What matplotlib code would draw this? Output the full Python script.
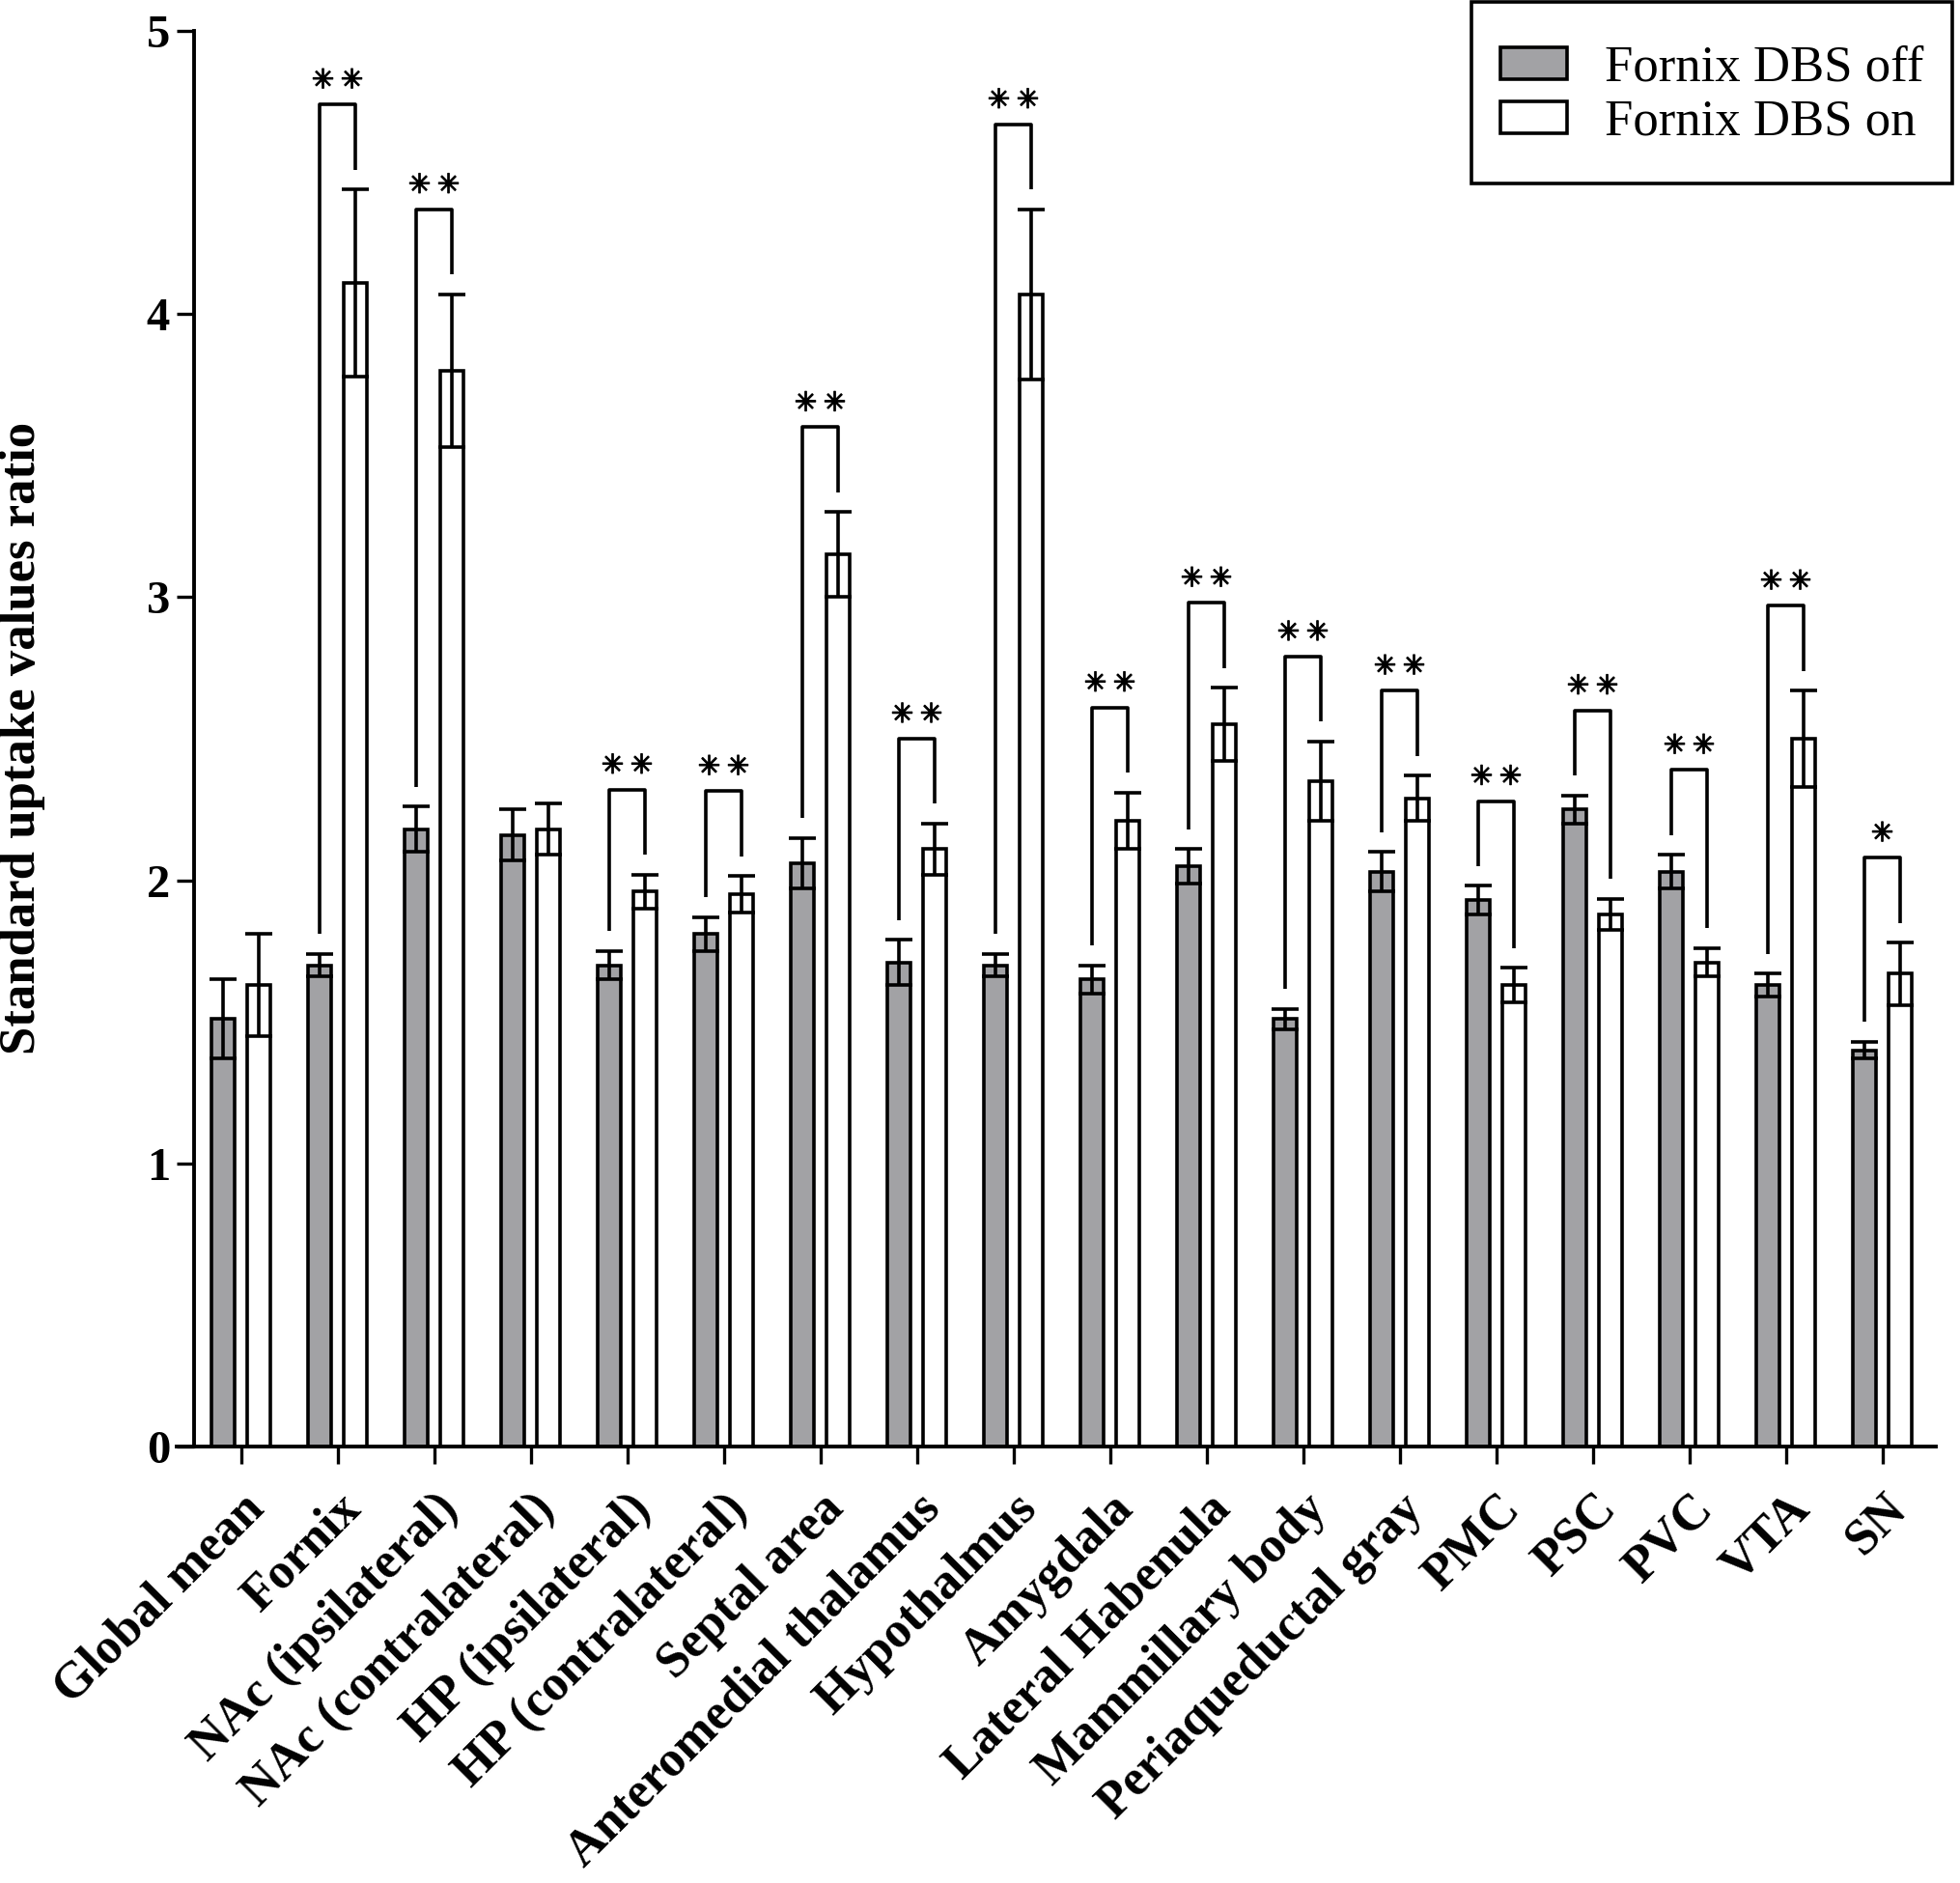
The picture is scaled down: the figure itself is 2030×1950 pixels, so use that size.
import numpy as np
import matplotlib
matplotlib.use("Agg")
import matplotlib.pyplot as plt
import matplotlib.patheffects as pe
from matplotlib.patches import Patch, Rectangle
from matplotlib.transforms import ScaledTranslation

plt.rcParams['font.family'] = ['Liberation Serif', 'DejaVu Serif']

# Regions and SUVR values (mean and SEM)
regions = ["Global mean", "Fornix", "NAc (ipsilateral)", "NAc (contralateral)",
           "HP (ipsilateral)", "HP (contralateral)", "Septal area",
           "Anteromedial thalamus", "Hypothalmus", "Amygdala", "Lateral Habenula",
           "Mammillary body", "Periaqueductal gray", "PMC", "PSC", "PVC", "VTA", "SN"]
dbs_off = [1.51, 1.70, 2.18, 2.16, 1.70, 1.81, 2.06, 1.71, 1.70, 1.65, 2.05,
           1.51, 2.03, 1.93, 2.25, 2.03, 1.63, 1.40]
dbs_off_err = [0.14, 0.04, 0.08, 0.09, 0.05, 0.06, 0.09, 0.08, 0.04, 0.05, 0.06,
               0.035, 0.07, 0.05, 0.05, 0.06, 0.04, 0.03]
dbs_on = [1.63, 4.11, 3.80, 2.18, 1.96, 1.95, 3.15, 2.11, 4.07, 2.21, 2.55,
          2.35, 2.29, 1.63, 1.88, 1.71, 2.50, 1.67]
dbs_on_err = [0.18, 0.33, 0.27, 0.09, 0.06, 0.065, 0.15, 0.09, 0.30, 0.10, 0.13,
              0.14, 0.08, 0.06, 0.055, 0.05, 0.17, 0.11]
signif = ["", "**", "**", "", "**", "**", "**", "**", "**", "**", "**",
          "**", "**", "**", "**", "**", "**", "*"]

GRAY = '#a2a2a5'
LW = 2.6

fig = plt.figure(figsize=(20.3, 19.5), dpi=100)
ax = fig.add_axes([183/2030, 1 - 1498/1950, (2005 - 183)/2030, (1498 - 32)/1950])

x = np.arange(len(regions))
off = 0.187
bw = 0.245

ax.bar(x - off, dbs_off, bw, color=GRAY, edgecolor='black', linewidth=LW, zorder=2)
ax.bar(x + off, dbs_on, bw, color='white', edgecolor='black', linewidth=LW, zorder=2)
ax.errorbar(x - off, dbs_off, yerr=dbs_off_err, fmt='none', ecolor='black',
            elinewidth=LW, capsize=10, capthick=LW, zorder=3)
ax.errorbar(x + off, dbs_on, yerr=dbs_on_err, fmt='none', ecolor='black',
            elinewidth=LW, capsize=10, capthick=LW, zorder=3)

# significance brackets with asterisks
star_fx = [pe.withStroke(linewidth=0.9, foreground='black')]
for i, s in enumerate(signif):
    if not s:
        continue
    top_off = dbs_off[i] + dbs_off_err[i]
    top_on = dbs_on[i] + dbs_on_err[i]
    h = max(top_off, top_on) + 0.30
    ax.plot([i - off, i - off, i + off, i + off],
            [top_off + 0.07, h, h, top_on + 0.07],
            color='black', lw=LW, solid_capstyle='butt', zorder=3)
    xs = [i] if len(s) == 1 else [i - 0.15, i + 0.15]
    for xs_ in xs:
        ax.text(xs_, h + 0.085, '\u2733', ha='center', va='center',
                fontsize=20, family='DejaVu Sans', path_effects=star_fx)

ax.set_xlim(-0.665, 17.555)
ax.set_ylim(0, 5)
ax.spines['left'].set_position(('data', -0.485))
ax.spines['top'].set_visible(False)
ax.spines['right'].set_visible(False)
for sp in ['left', 'bottom']:
    ax.spines[sp].set_linewidth(2.8)

ax.set_yticks([0, 1, 2, 3, 4, 5])
ax.set_yticklabels(['0', '1', '2', '3', '4', '5'], fontsize=35, fontweight='bold')
ax.set_xticks(x)
ax.set_xticklabels(regions, fontsize=37.5, fontweight='bold', rotation=45,
                   ha='right', va='top', rotation_mode='anchor')
shift = ScaledTranslation(-16/100, -8/100, fig.dpi_scale_trans)
for lab in ax.get_xticklabels():
    lab.set_transform(lab.get_transform() + shift)
ax.tick_params(axis='both', direction='out', length=13, width=2.4, pad=5)
ax.tick_params(axis='x', pad=16)

fig.text(23/2030, 1 - 764/1950, 'Standard uptake values ratio', rotation=90,
         ha='center', va='center', fontsize=38, fontweight='bold')

# legend: entries without frame, plus a separate box
handles = [Patch(facecolor=GRAY, edgecolor='black', linewidth=LW, label='Fornix DBS off'),
           Patch(facecolor='white', edgecolor='black', linewidth=LW, label='Fornix DBS on')]
fig.legend(handles=handles, loc='upper left', bbox_to_anchor=(1554/2030, 1 - 47/1950),
           fontsize=38, frameon=False, handlelength=1.3, handleheight=0.6,
           handletextpad=0.75, borderpad=0, labelspacing=0.15, borderaxespad=0)
fig.add_artist(Rectangle((1524/2030, 1 - 190/1950), 498/2030, 188/1950,
                         transform=fig.transFigure, fill=False,
                         edgecolor='black', linewidth=2.6))

fig.savefig('out.png', dpi=100, facecolor='white')
